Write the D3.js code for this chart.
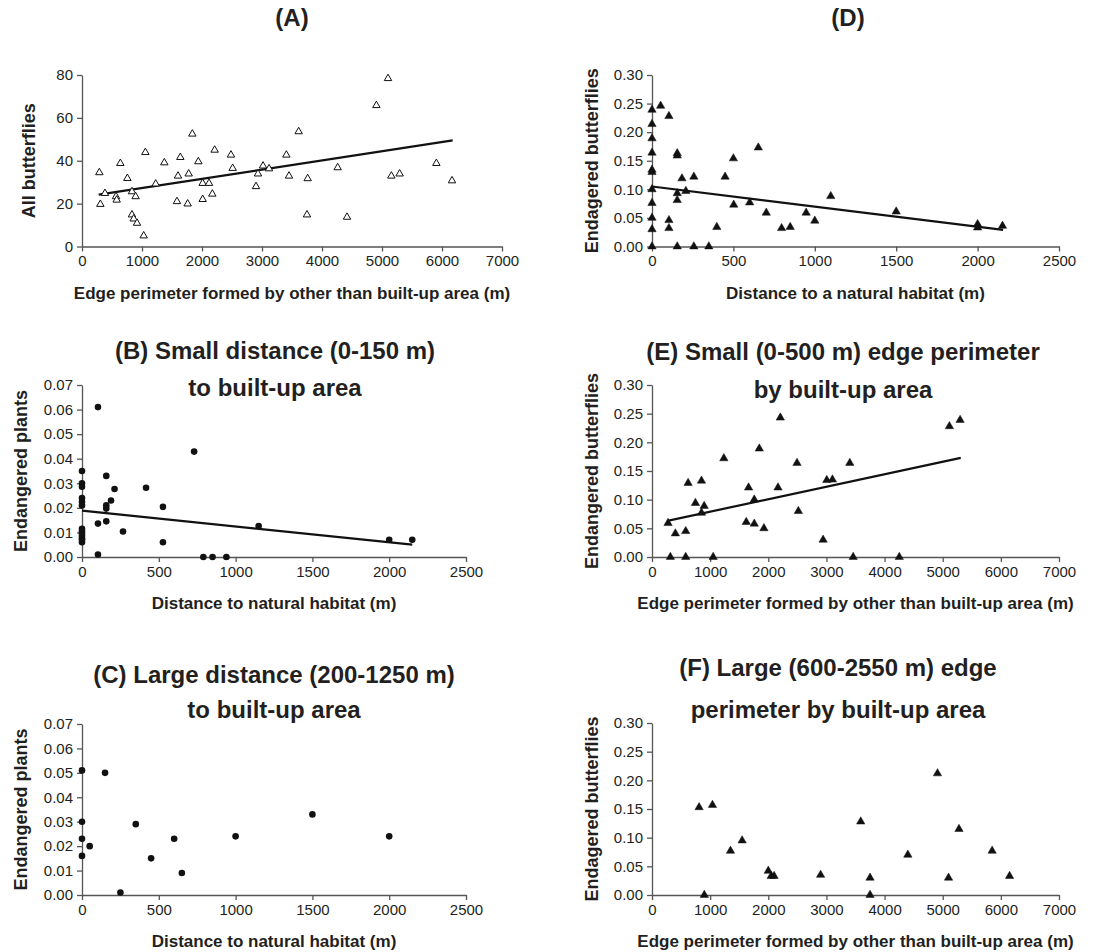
<!DOCTYPE html>
<html><head><meta charset="utf-8">
<script src="https://cdnjs.cloudflare.com/ajax/libs/d3/7.8.5/d3.min.js"></script>
<style>body{margin:0;background:#fff}svg{display:block;font-family:"Liberation Sans",Arial,sans-serif}</style>
</head><body>
<svg id="c" width="1096" height="952"></svg>
<script>
// ---- Data ----
const aX = [289,306,383,567,578,639,756,833,833,861,894,917,1028,1056,1228,1372,1583,1600,1639,1761,1778,1839,1939,2011,2011,2117,2172,2211,2483,2511,2900,2933,3017,3117,3406,3450,3611,3750,3761,4261,4417,4906,5100,5156,5294,5906,6167];
const aY = [34.5,19.7,24.8,23.3,21.7,38.8,31.8,25.6,14.8,12.9,23.3,10.9,5,43.9,29.2,39.1,21,32.9,41.6,19.9,33.9,52.5,39.6,22,29.5,29.5,24.5,45,42.7,36.5,28,33.9,37.6,36.3,42.7,32.9,53.6,14.8,31.7,36.8,13.7,65.8,78.4,32.9,33.9,38.8,30.7];
const aTrendX = [278, 6178];
const aTrendY = [24.2, 49.5];
const aXTicks = [0,1000,2000,3000,4000,5000,6000,7000];
const aYTicks = [0,20,40,60,80];

const dX = [0,0,0,0,0,0,0,0,0,0,0,53,104,104,104,155,155,155,155,155,184,208,257,257,349,398,449,500,502,600,653,702,796,849,947,1000,1098,1500,2000,2000,2153];
const dY = [0,0.030,0.050,0.076,0.100,0.130,0.134,0.164,0.189,0.214,0.239,0.246,0.228,0.046,0.032,0,0.163,0.159,0.093,0.081,0.119,0.097,0.122,0,0,0.034,0.122,0.154,0.073,0.077,0.173,0.059,0.032,0.034,0.059,0.045,0.088,0.061,0.039,0.033,0.036];
const dTrendX = [0, 2157];
const dTrendY = [0.105, 0.029];
const dXTicks = [0,500,1000,1500,2000,2500];
const butterflyYTicks = [0,0.05,0.10,0.15,0.20,0.25,0.30];

const bX = [0,0,0,0,0,0,0,0,0,0,0,0,0,104,158,189,212,158,158,104,158,267,417,527,527,730,1150,104,790,850,940,2000,2150];
const bY = [0.035,0.030,0.0286,0.024,0.0225,0.021,0.0115,0.0105,0.0095,0.0085,0.0075,0.007,0.006,0.061,0.033,0.023,0.0277,0.021,0.0197,0.0136,0.0145,0.0104,0.0282,0.0204,0.006,0.0429,0.0126,0.001,0,0,0,0.007,0.007];
const bTrendX = [0, 2150];
const bTrendY = [0.0189, 0.005];
const distXTicks = [0,500,1000,1500,2000,2500];
const plantYTicks = [0,0.01,0.02,0.03,0.04,0.05,0.06,0.07];

const cX = [0,0,0,0,50,150,250,350,450,600,650,1000,1500,2000];
const cY = [0.051,0.030,0.023,0.016,0.020,0.050,0.001,0.029,0.015,0.023,0.009,0.024,0.033,0.024];

const eX = [276,316,402,580,580,621,747,851,851,897,1052,1236,1661,1621,1759,1759,1845,1925,2167,2207,2494,2517,2943,3006,3103,3402,3460,4253,5115,5299];
const eY = [0.059,0,0.041,0.045,0,0.129,0.094,0.133,0.077,0.089,0,0.172,0.121,0.061,0.100,0.058,0.189,0.050,0.121,0.243,0.164,0.080,0.030,0.134,0.135,0.164,0,0,0.228,0.239];
const eTrendX = [264, 5310];
const eTrendY = [0.063, 0.173];
const edgeXTicks = [0,1000,2000,3000,4000,5000,6000,7000];

const fX = [810,1040,900,1350,1550,2000,2050,2100,2900,3590,3750,3750,4400,4910,5100,5280,5850,6150];
const fY = [0.153,0.157,0,0.077,0.095,0.042,0.033,0.033,0.035,0.128,0.030,0,0.070,0.212,0.030,0.115,0.077,0.033];

// ---- Drawing ----
const svg = d3.select("#c");
const INK = "#231f20";
const fmt2 = d3.format(".2f");

function panel(o){
  const x = d3.scaleLinear().domain(o.xDom).range([o.l, o.r]);
  const y = d3.scaleLinear().domain(o.yDom).range([o.b, o.t]);
  const g = svg.append("g");
  const xa = g.append("g").attr("transform",`translate(0,${o.b})`)
    .call(d3.axisBottom(x).tickValues(o.xTicks).tickSize(5).tickSizeOuter(0).tickPadding(4).tickFormat(d3.format("d")));
  const ya = g.append("g").attr("transform",`translate(${o.l},0)`)
    .call(d3.axisLeft(y).tickValues(o.yTicks).tickSize(5).tickSizeOuter(0).tickPadding(4).tickFormat(o.yFmt));
  [xa,ya].forEach(a=>{
    a.select(".domain").attr("stroke","#555").attr("stroke-width",1.3);
    a.selectAll(".tick line").attr("stroke","#555").attr("stroke-width",1.3);
    a.selectAll("text").attr("fill",INK).attr("font-size",15).attr("font-family","Liberation Sans, Arial, sans-serif");
  });
  o.title.forEach((t,i)=>{
    g.append("text").attr("x",o.tx).attr("y",o.ty[i]).attr("text-anchor","middle")
      .attr("font-size",24).attr("font-weight","bold").attr("fill",INK).text(t);
  });
  g.append("text").attr("x",(o.l+o.r)/2).attr("y",o.b+52).attr("text-anchor","middle")
    .attr("font-size",17).attr("font-weight","bold").attr("fill",INK).text(o.xTitle);
  g.append("text").attr("transform",`translate(${o.yx},${(o.t+o.b)/2}) rotate(-90)`).attr("text-anchor","middle")
    .attr("font-size",18).attr("font-weight","bold").attr("fill",INK).text(o.yTitle);
  if(o.tX){
    g.append("line").attr("x1",x(o.tX[0])).attr("y1",y(o.tY[0])).attr("x2",x(o.tX[1])).attr("y2",y(o.tY[1]))
      .attr("stroke","#111").attr("stroke-width",2.2);
  }
  const pts = o.xs.map((v,i)=>[v,o.ys[i]]);
  if(o.mark==="circle"){
    g.selectAll("circle.p").data(pts).join("circle").attr("cx",d=>x(d[0])).attr("cy",d=>y(d[1])).attr("r",3.3).attr("fill","#111");
  } else {
    const open = o.mark==="open";
    const sym = d3.symbol().type(d3.symbolTriangle).size(open?24:30);
    g.selectAll("path.p").data(pts).join("path").attr("d",sym)
      .attr("transform",d=>`translate(${x(d[0])},${y(d[1])})`)
      .attr("fill",open?"#fff":"#111").attr("stroke","#111").attr("stroke-width",open?1:0.5);
  }
}

const L = {l:82, r:502}, Ls = {l:82, r:466}, R = {l:652, r:1059};
panel({...L, t:75, b:246.5, xDom:[0,7000], yDom:[0,80], xTicks:aXTicks, yTicks:aYTicks, yFmt:d3.format("d"),
  title:["(A)"], tx:292, ty:[26], xTitle:"Edge perimeter formed by other than built-up area (m)", yTitle:"All butterflies", yx:35,
  xs:aX, ys:aY, tX:aTrendX, tY:aTrendY, mark:"open"});
panel({...R, t:75, b:246.5, xDom:[0,2500], yDom:[0,0.30], xTicks:dXTicks, yTicks:butterflyYTicks, yFmt:fmt2,
  title:["(D)"], tx:848, ty:[26], xTitle:"Distance to a natural habitat (m)", yTitle:"Endagered butterflies", yx:598,
  xs:dX, ys:dY, tX:dTrendX, tY:dTrendY, mark:"fill"});
panel({...Ls, t:385, b:557, xDom:[0,2500], yDom:[0,0.07], xTicks:distXTicks, yTicks:plantYTicks, yFmt:fmt2,
  title:["(B) Small distance (0-150 m)","to built-up area"], tx:275, ty:[359,396], xTitle:"Distance to natural habitat (m)", yTitle:"Endangered plants", yx:27,
  xs:bX, ys:bY, tX:bTrendX, tY:bTrendY, mark:"circle"});
panel({...R, t:385, b:557, xDom:[0,7000], yDom:[0,0.30], xTicks:edgeXTicks, yTicks:butterflyYTicks, yFmt:fmt2,
  title:["(E) Small (0-500 m) edge perimeter","by built-up area"], tx:843, ty:[360,398], xTitle:"Edge perimeter formed by other than built-up area (m)", yTitle:"Endangered butterflies", yx:598,
  xs:eX, ys:eY, tX:eTrendX, tY:eTrendY, mark:"fill"});
panel({...Ls, t:724, b:895, xDom:[0,2500], yDom:[0,0.07], xTicks:distXTicks, yTicks:plantYTicks, yFmt:fmt2,
  title:["(C) Large distance (200-1250 m)","to built-up area"], tx:274, ty:[683,718], xTitle:"Distance to natural habitat (m)", yTitle:"Endangered plants", yx:27,
  xs:cX, ys:cY, mark:"circle"});
panel({...R, t:723, b:895, xDom:[0,7000], yDom:[0,0.30], xTicks:edgeXTicks, yTicks:butterflyYTicks, yFmt:fmt2,
  title:["(F) Large (600-2550 m) edge","perimeter by built-up area"], tx:838, ty:[676,718], xTitle:"Edge perimeter formed by other than built-up area (m)", yTitle:"Endagered butterflies", yx:598,
  xs:fX, ys:fY, mark:"fill"});
</script>
</body></html>
